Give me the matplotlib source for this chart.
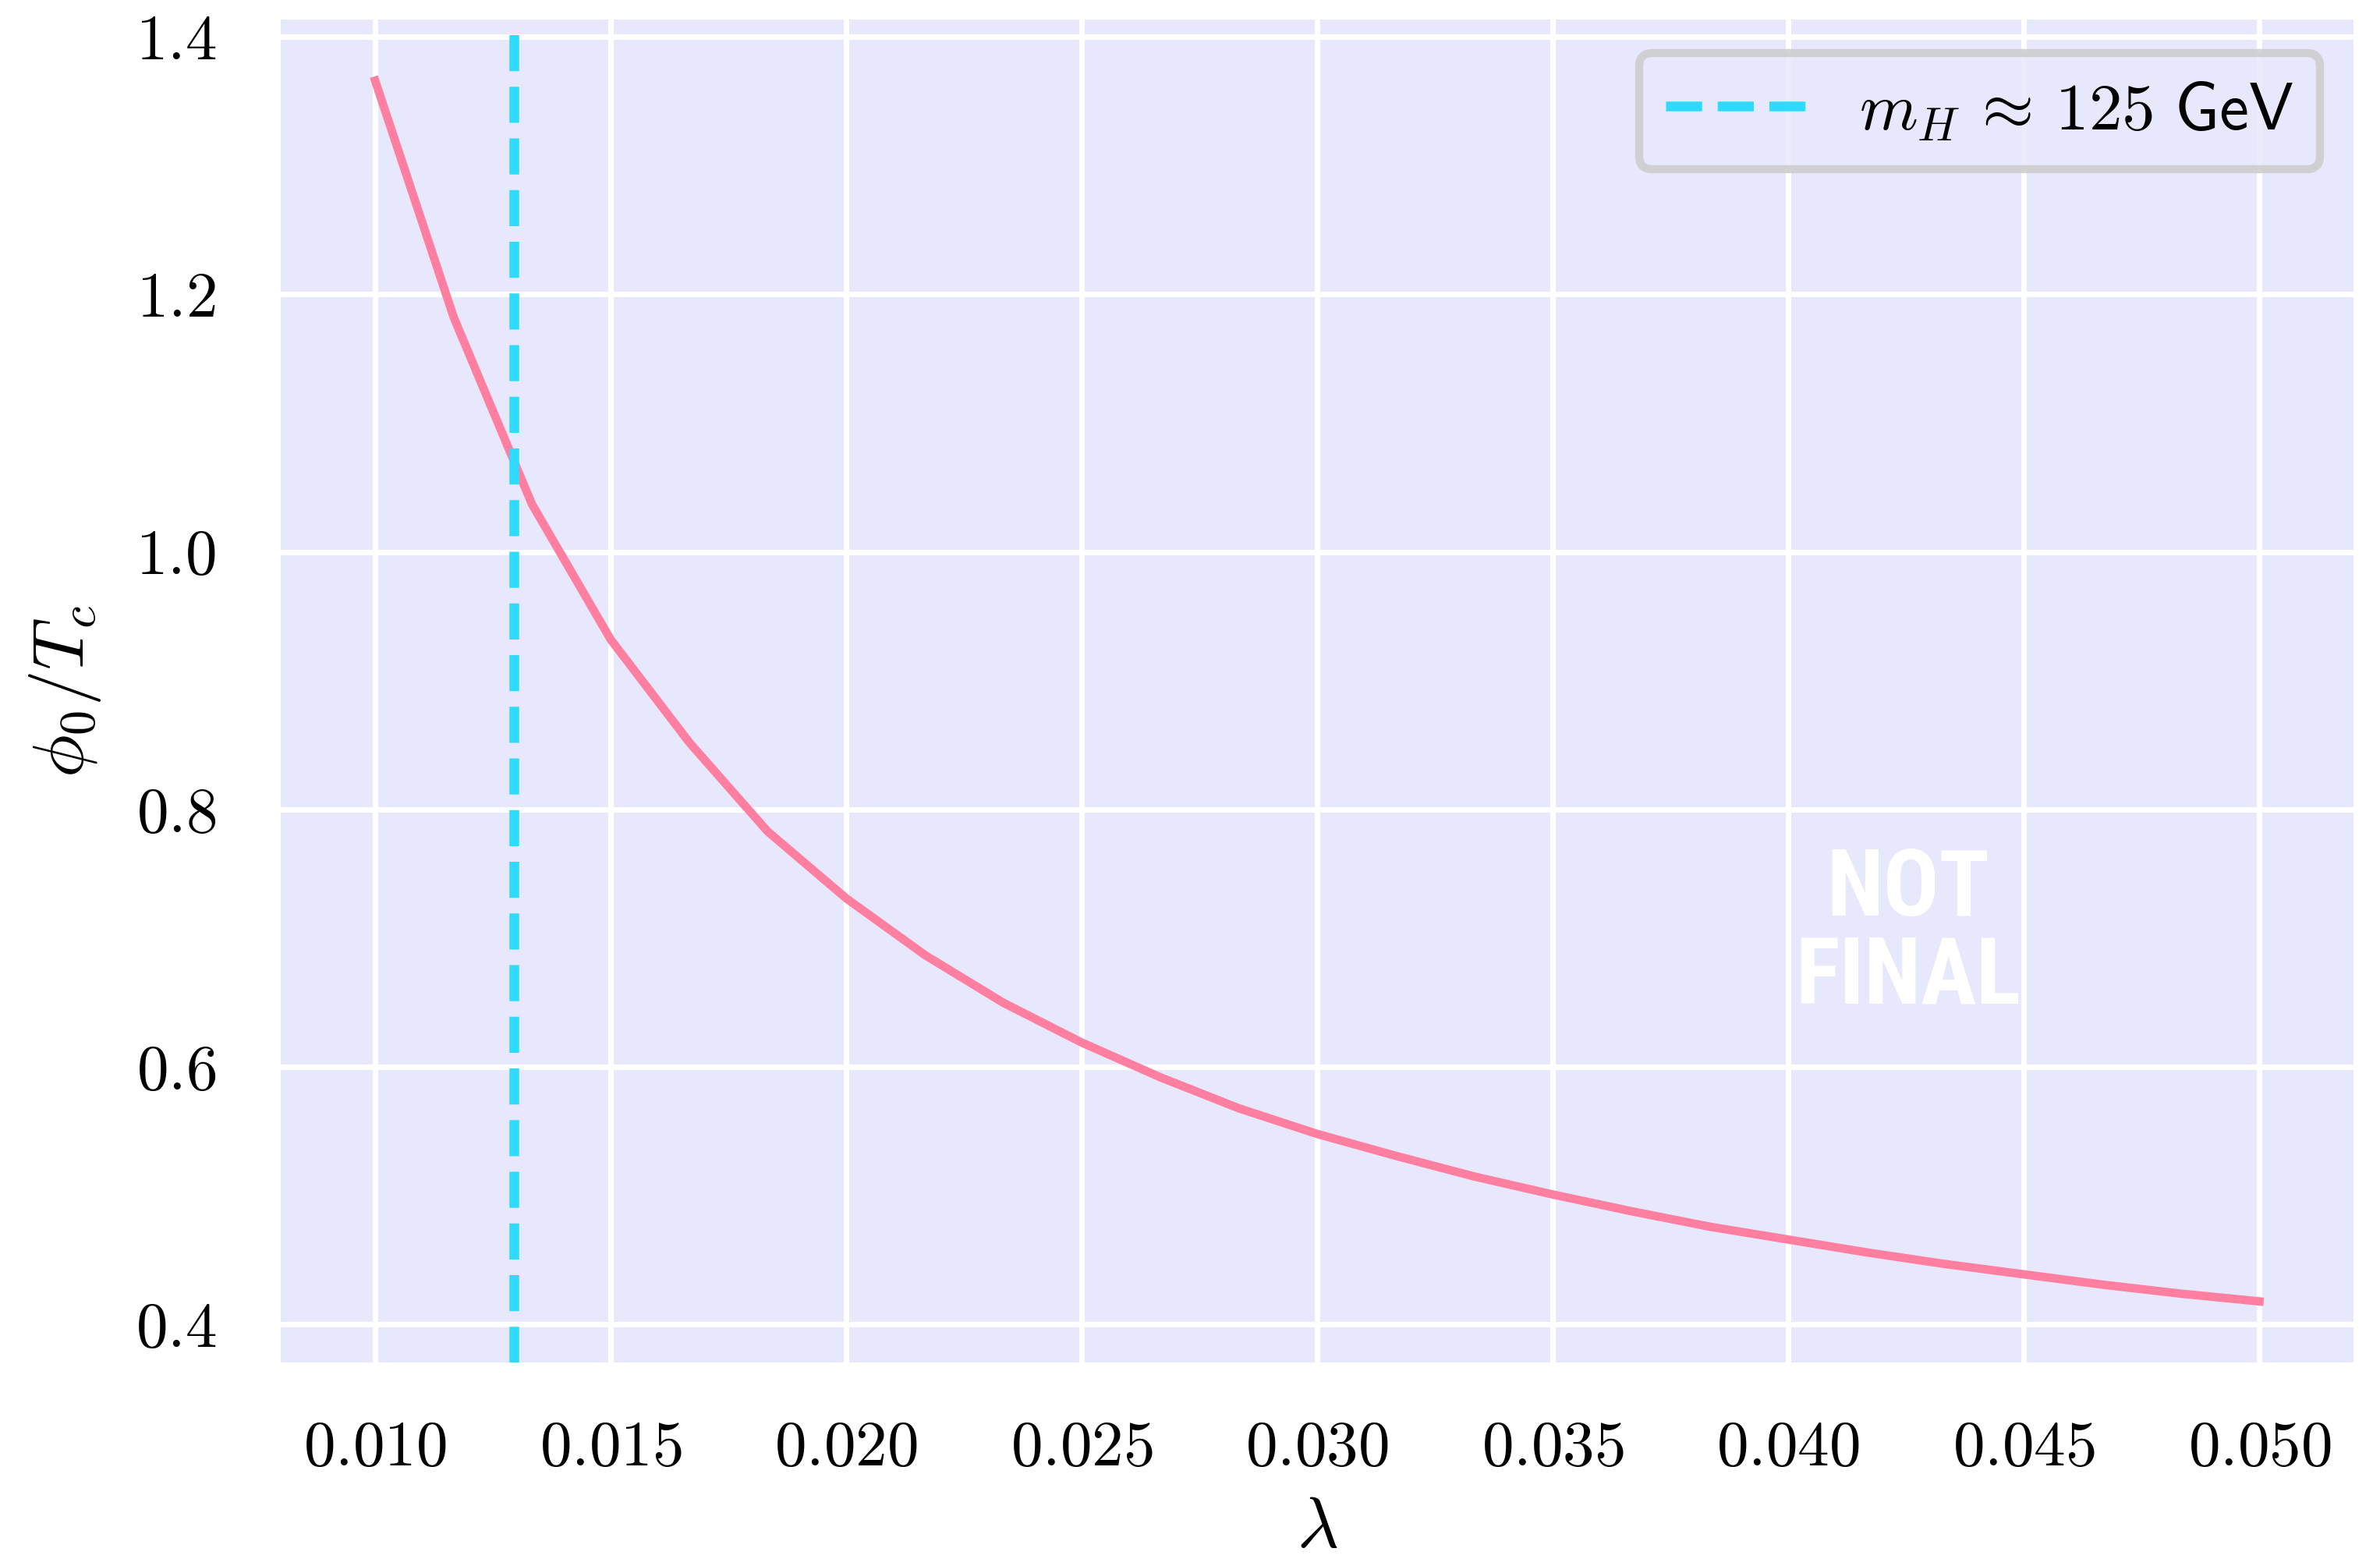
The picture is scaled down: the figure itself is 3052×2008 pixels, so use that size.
import numpy as np
import matplotlib
matplotlib.use('Agg')
import matplotlib.pyplot as plt
from matplotlib import font_manager

# data
lam = [0.01000, 0.01167, 0.01333, 0.01500, 0.01667, 0.01833, 0.02000,
       0.02167, 0.02333, 0.02500, 0.02667, 0.02833, 0.03000, 0.03167,
       0.03333, 0.03500, 0.03667, 0.03833, 0.04000, 0.04167, 0.04333,
       0.04500, 0.04667, 0.04833, 0.05000]
phi_over_tc = [1.366, 1.182, 1.037, 0.932, 0.852, 0.783, 0.731,
               0.687, 0.650, 0.619, 0.592, 0.568, 0.548, 0.531,
               0.515, 0.501, 0.488, 0.476, 0.466, 0.456, 0.447,
               0.439, 0.431, 0.424, 0.418]
lam_higgs = 0.01295
higgs_label = r'$m_H\,\approx\,\mathrm{125}\ \mathsf{GeV}\ \ $'
xticks = [0.010, 0.015, 0.020, 0.025, 0.030, 0.035, 0.040, 0.045, 0.050]
yticks = [0.4, 0.6, 0.8, 1.0, 1.2, 1.4]

bg = '#E8E8FC'
pink = '#FF7FA0'
cyan = '#2EDBFF'

plt.rcParams['font.family'] = 'serif'
plt.rcParams['font.serif'] = ['cmr10']
plt.rcParams['mathtext.fontset'] = 'cm'
plt.rcParams['axes.formatter.use_mathtext'] = True

# pick a narrow bold face for the watermark if one is around
installed = {f.name for f in font_manager.fontManager.ttflist}
narrow = 'DejaVu Sans'
for cand in ['Liberation Sans Narrow', 'Roboto Condensed', 'Open Sans Condensed',
             'Noto Sans Condensed', 'DejaVu Sans Condensed']:
    if cand in installed:
        narrow = cand
        break

fig, ax = plt.subplots(figsize=(3053 / 300, 2008 / 300), dpi=300)
fig.subplots_adjust(left=0.118, right=0.9886, top=0.9875, bottom=0.130)

ax.set_facecolor(bg)
for s in ax.spines.values():
    s.set_visible(False)
ax.grid(True, color='white', linewidth=1.7)
ax.set_axisbelow(True)

ax.plot(lam, phi_over_tc, color=pink, lw=2.6, zorder=3)
ax.axvline(lam_higgs, color=cyan, lw=3.0, ls='--', label=higgs_label, zorder=4)

ax.set_xticks(xticks)
ax.set_yticks(yticks)
ax.xaxis.set_major_formatter(matplotlib.ticker.FormatStrFormatter('$%.3f$'))
ax.yaxis.set_major_formatter(matplotlib.ticker.FormatStrFormatter('$%.1f$'))
ax.tick_params(axis='both', length=0, labelsize=19.5)
ax.tick_params(axis='x', pad=18)
ax.tick_params(axis='y', pad=20)

ax.set_xlabel(r'$\lambda$', fontsize=22, labelpad=6)
ax.set_ylabel(r'$\phi_0/T_c$', fontsize=22, labelpad=10)

leg = ax.legend(loc='upper right', fontsize=20.5, fancybox=True, handlelength=2.1,
                facecolor=bg, edgecolor='#CCCCCC', framealpha=0.85)
leg.get_frame().set_linewidth(2.5)

wm_size = 28.5 if narrow != 'DejaVu Sans' else 24
ax.text(0.785, 0.319, 'NOT\nFINAL', transform=ax.transAxes, color='white',
        fontsize=wm_size, fontweight='bold', family=narrow,
        ha='center', va='center', linespacing=1.0, zorder=2)

fig.savefig('out.png', dpi=300)
